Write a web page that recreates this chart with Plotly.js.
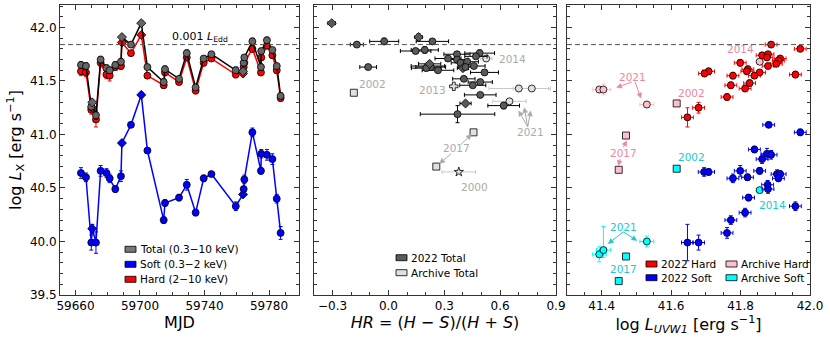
<!DOCTYPE html>
<html>
<head>
<meta charset="utf-8">
<script src="https://cdn.plot.ly/plotly-3.0.1.min.js"></script>
<style>body{margin:0;background:#fff;} #plotArea{width:830px;height:339px;}</style>
</head>
<body>
<div id="plotArea"></div>
<script>
// Left panel - light curves
var mjd = [59663.4, 59666.5, 59669.8, 59670.4, 59672.7, 59675.6, 59679.2, 59681.2, 59684.7, 59688.2, 59688.8,
    59694.4, 59700.8, 59704.6, 59714.7, 59715.5, 59724.2, 59729.0, 59734.5, 59739.5, 59744.3, 59759.4,
    59763.9, 59764.3, 59764.7, 59769.7, 59775.0, 59775.2, 59778.7, 59782.1, 59784.8, 59787.2];
var total = [41.65, 41.64, 41.26, 41.30, 41.18, 41.70, 41.62, 41.60, 41.65, 41.68, 41.91, 41.84, 42.04, 41.63, 41.49, 41.61,
    41.52, 41.76, 41.44, 41.71, 41.75, 41.60, 41.59, 41.67, 41.72, 41.87, 41.63, 41.78, 41.88, 41.79, 41.64, 41.36];
var totalErr = [0.03, 0.03, 0.03, 0.02, 0.04, 0.03, 0.03, 0.03, 0.03, 0.03, 0.02, 0.02, 0.02, 0.02, 0.03, 0.03,
    0.02, 0.03, 0.02, 0.02, 0.02, 0.03, 0.02, 0.03, 0.02, 0.03, 0.03, 0.02, 0.03, 0.02, 0.02, 0.03];
var hard = [41.59, 41.58, 41.23, 41.25, 41.14, 41.67, 41.56, 41.55, 41.63, 41.64, 41.86, 41.76, 41.93, 41.55, 41.46, 41.58,
    41.49, 41.72, 41.41, 41.67, 41.71, 41.56, 41.57, 41.63, 41.67, 41.80, 41.58, 41.72, 41.83, 41.74, 41.60, 41.34];
var hardErr = [0.04, 0.04, 0.04, 0.03, 0.07, 0.04, 0.04, 0.05, 0.03, 0.03, 0.02, 0.02, 0.02, 0.02, 0.03, 0.03,
    0.02, 0.03, 0.03, 0.03, 0.02, 0.03, 0.03, 0.03, 0.03, 0.03, 0.03, 0.03, 0.03, 0.03, 0.03, 0.03];
var soft = [40.64, 40.60, 39.99, 40.12, 39.99, 40.66, 40.64, 40.59, 40.49, 40.61, 40.92, 41.09, 41.37, 40.85, 40.20, 40.36,
    40.41, 40.53, 40.27, 40.59, 40.63, 40.33, 40.44, 40.49, 40.58, 41.02, 40.66, 40.82, 40.81, 40.77, 40.40, 40.08];
var softErr = [0.05, 0.04, 0.07, 0.04, 0.10, 0.05, 0.04, 0.04, 0.03, 0.05, 0.02, 0.01, 0.02, 0.02, 0.03, 0.03,
    0.03, 0.05, 0.03, 0.03, 0.02, 0.04, 0.02, 0.02, 0.04, 0.04, 0.03, 0.04, 0.05, 0.05, 0.04, 0.06];
var lcSymbol = mjd.map((m, i) => [3, 10, 12, 22].indexOf(i) >= 0 ? "diamond" : "circle");

// Middle panel - hardness ratio
var hr2022 = [-0.305, -0.17, -0.023, 0.162, 0.236, -0.109, 0.146, 0.195, 0.368, 0.49, 0.47, 0.32, 0.368, 0.387, 0.423, 0.459,
    0.212, 0.227, 0.40, 0.414, 0.266, 0.516, 0.405, 0.493, 0.453, 0.493, 0.414, 0.619, 0.371, 0.203, 0.221];
var hrErr2022 = [0.02, 0.035, 0.078, 0.02, 0.087, 0.045, 0.082, 0.073, 0.07, 0.08, 0.06, 0.07, 0.06, 0.05, 0.06, 0.06,
    0.09, 0.08, 0.03, 0.04, 0.085, 0.075, 0.06, 0.065, 0.07, 0.085, 0.03, 0.085, 0.2, 0.08, 0.06];
var lxHR2022 = [42.04, 41.84, 41.87, 41.91, 41.87, 41.63, 41.78, 41.79, 41.75, 41.76, 41.73, 41.71, 41.70, 41.67, 41.68, 41.64,
    41.64, 41.63, 41.62, 41.63, 41.60, 41.58, 41.52, 41.49, 41.46, 41.37, 41.29, 41.27, 41.19, 41.62, 41.66];
var lxHRErr2022 = [0.01, 0.01, 0.03, 0.03, 0.02, 0.01, 0.02, 0.03, 0.02, 0.03, 0.02, 0.02, 0.02, 0.02, 0.02, 0.02,
    0.02, 0.02, 0.02, 0.02, 0.02, 0.02, 0.02, 0.02, 0.02, 0.02, 0.02, 0.03, 0.08, 0.02, 0.02];
var hrSymbol = hr2022.map((h, i) => [0, 3, 18, 26, 30].indexOf(i) >= 0 ? "diamond" : "circle");

var hrArchive = [-0.186, 0.351, 0.525, 0.70, 0.77, 0.65, 0.457, 0.257, 0.378];
var hrErrArchive = [0, 0.02, 0.03, 0.16, 0.1, 0.09, 0, 0, 0.09];
var lxHRArchive = [41.39, 41.45, 41.71, 41.43, 41.43, 41.31, 41.02, 40.70, 40.65];
var lxHRErrArchive = [0, 0.02, 0.02, 0.03, 0.02, 0.02, 0, 0, 0.02];
var archiveSymbol = ["square", "cross", "circle", "circle", "circle", "circle", "square", "square", "star"];

// Right panel - UVW1
var uvHard = [41.888, 41.972, 41.862, 41.879, 41.876, 41.914, 41.909, 41.903, 41.799, 41.879, 41.821, 41.818,
    41.855, 41.84, 41.708, 41.696, 41.778, 41.958, 41.826, 41.772, 41.813, 41.761, 41.679, 41.647];
var lxHardUV = [41.84, 41.80, 41.74, 41.75, 41.72, 41.71, 41.69, 41.66, 41.67, 41.64, 41.61, 41.59,
    41.58, 41.55, 41.59, 41.57, 41.55, 41.56, 41.48, 41.46, 41.43, 41.35, 41.25, 41.16];
var lxHardUVErr = [0.02, 0.02, 0.02, 0.02, 0.02, 0.02, 0.02, 0.02, 0.03, 0.02, 0.03, 0.03,
    0.02, 0.02, 0.03, 0.03, 0.03, 0.03, 0.03, 0.03, 0.03, 0.03, 0.05, 0.09];
var uvSoft = [41.881, 41.972, 41.84, 41.876, 41.888, 41.862, 41.695, 41.708, 41.799, 41.778, 41.82, 41.855,
    41.905, 41.914, 41.909, 41.878, 41.879, 41.823, 41.958, 41.813, 41.772, 41.761, 41.647, 41.679];
var lxSoftUV = [41.09, 41.02, 40.86, 40.82, 40.81, 40.77, 40.65, 40.65, 40.66, 40.59, 40.60, 40.66,
    40.63, 40.63, 40.59, 40.53, 40.49, 40.41, 40.33, 40.27, 40.20, 40.08, 39.99, 39.99];
var lxSoftUVErr = [0.02, 0.03, 0.03, 0.05, 0.04, 0.04, 0.04, 0.03, 0.05, 0.04, 0.03, 0.03,
    0.04, 0.03, 0.03, 0.04, 0.04, 0.03, 0.04, 0.04, 0.04, 0.05, 0.17, 0.07];
var uvErr = 0.017;

var uvArchive = [41.393, 41.405, 41.53, 41.855, 41.616, 41.47, 41.449];
var uvErrArchive = [0.02, 0.02, 0.02, 0.01, 0, 0, 0];
var lxHardArchive = [41.42, 41.42, 41.28, 41.68, 41.29, 40.99, 40.67];
var lxHardArchiveErr = [0.03, 0.05, 0.03, 0.02, 0, 0, 0];
var lxSoftArchive = [39.88, 39.92, 40.00, 40.48, 40.68, 39.86, 39.63];
var lxSoftArchiveErrUp = [0.07, 0.22, 0.05, 0.02, 0, 0, 0];
var lxSoftArchiveErrDown = [0.07, 0.07, 0.05, 0.02, 0, 0, 0];
var uvArchiveSymbol = ["circle", "circle", "circle", "circle", "square", "square", "square"];

var font = "DejaVu Sans";

function errBar(arr, color) {
    return {type: "data", array: arr, visible: true, color: color, thickness: 1, width: 2};
}

// light curve traces
var data = [
    {x: mjd, y: soft, xaxis: "x", yaxis: "y", type: "scatter", mode: "lines+markers",
        line: {color: "#0000ff", width: 1.5},
        marker: {color: "#0000ff", size: 7, symbol: lcSymbol, line: {color: "#000", width: 0.8}},
        error_y: errBar(softErr, "#0000ff")},
    {x: mjd, y: hard, xaxis: "x", yaxis: "y", type: "scatter", mode: "lines+markers",
        line: {color: "#ff0000", width: 1.5},
        marker: {color: "#ff0000", size: 7, symbol: lcSymbol, line: {color: "#000", width: 0.8}},
        error_y: errBar(hardErr, "#ff0000")},
    {x: mjd, y: total, xaxis: "x", yaxis: "y", type: "scatter", mode: "lines+markers",
        line: {color: "#000", width: 1.5},
        marker: {color: "#666", size: 7, symbol: lcSymbol, line: {color: "#000", width: 0.8}},
        error_y: errBar(totalErr, "#000")},

    // hardness ratio
    {x: hrArchive, y: lxHRArchive, xaxis: "x2", yaxis: "y2", type: "scatter", mode: "markers",
        marker: {color: "#e0e0e0", size: 7, symbol: archiveSymbol, line: {color: "#000", width: 0.8}},
        error_x: errBar(hrErrArchive, "#c8c8c8"), error_y: errBar(lxHRErrArchive, "#c8c8c8")},
    {x: hr2022, y: lxHR2022, xaxis: "x2", yaxis: "y2", type: "scatter", mode: "markers",
        marker: {color: "#5a5a5a", size: 7, symbol: hrSymbol, line: {color: "#000", width: 0.8}},
        error_x: errBar(hrErr2022, "#000"), error_y: errBar(lxHRErr2022, "#000")},

    // UVW1
    {x: uvArchive, y: lxHardArchive, xaxis: "x3", yaxis: "y3", type: "scatter", mode: "markers",
        marker: {color: "#ffc0cb", size: 7, symbol: uvArchiveSymbol, line: {color: "#000", width: 0.8}},
        error_x: errBar(uvErrArchive, "#ffc0cb"), error_y: errBar(lxHardArchiveErr, "#ffc0cb")},
    {x: uvArchive, y: lxSoftArchive, xaxis: "x3", yaxis: "y3", type: "scatter", mode: "markers",
        marker: {color: "#00ffff", size: 7, symbol: uvArchiveSymbol, line: {color: "#000", width: 0.8}},
        error_x: errBar(uvErrArchive, "#00ffff"),
        error_y: {type: "data", symmetric: false, array: lxSoftArchiveErrUp, arrayminus: lxSoftArchiveErrDown,
            color: "#00ffff", thickness: 1, width: 2}},
    {x: uvHard, y: lxHardUV, xaxis: "x3", yaxis: "y3", type: "scatter", mode: "markers",
        marker: {color: "#ff0000", size: 7, line: {color: "#000", width: 0.8}},
        error_x: {type: "constant", value: uvErr, color: "#ff0000", thickness: 1, width: 2},
        error_y: errBar(lxHardUVErr, "#ff0000")},
    {x: uvSoft, y: lxSoftUV, xaxis: "x3", yaxis: "y3", type: "scatter", mode: "markers",
        marker: {color: "#0000ff", size: 7, line: {color: "#000", width: 0.8}},
        error_x: {type: "constant", value: uvErr, color: "#0000ff", thickness: 1, width: 2},
        error_y: errBar(lxSoftUVErr, "#0000ff")}
];

function axis(extra) {
    return Object.assign({
        showline: true, mirror: "ticks", linecolor: "#333", linewidth: 1,
        ticks: "inside", ticklen: 5, tickwidth: 1, tickcolor: "#333",
        zeroline: false, showgrid: false,
        tickfont: {family: font, size: 12, color: "#000"}
    }, extra);
}
function minor(step) {
    return {dtick: step, ticks: "inside", ticklen: 3, tickcolor: "#333", showgrid: false};
}

var titleFont = {family: font, size: 16, color: "#000"};

// legend patches drawn by hand (pixel positions -> paper)
var W = 830, plotTop = 5, plotBottom = 295;
function px(x) { return x / W; }
function py(y) { return (plotBottom - y) / (plotBottom - plotTop); }
var shapes = [];
var annotations = [];
function patch(x, y, label, color) {
    shapes.push({type: "rect", xref: "paper", yref: "paper", x0: px(x), x1: px(x + 11), y0: py(y + 3), y1: py(y - 3),
        fillcolor: color, line: {color: "#000", width: 0.8}});
    annotations.push({xref: "paper", yref: "paper", x: px(x + 13), y: py(y), text: label, showarrow: false,
        xanchor: "left", yanchor: "middle", font: {family: font, size: 10.5, color: "#000"}});
}
patch(125, 249.3, "Total (0.3\u221210 keV)", "#777");
patch(125, 264.3, "Soft (0.3\u22122 keV)", "#0000ff");
patch(125, 279.3, "Hard (2\u221210 keV)", "#ff0000");
patch(396, 257.7, "2022 Total", "#5a5a5a");
patch(396, 272.7, "Archive Total", "#e0e0e0");
patch(646, 264, "2022 Hard", "#ff0000");
patch(646, 277.7, "2022 Soft", "#0000ff");
patch(726, 264, "Archive Hard", "#ffc0cb");
patch(726, 277.7, "Archive Soft", "#00ffff");

// Eddington line
["x", "x2", "x3"].forEach(function(ax, i) {
    shapes.push({type: "line", xref: ax + " domain", yref: ["y", "y2", "y3"][i], x0: 0, x1: 1, y0: 41.84, y1: 41.84,
        line: {color: "#555", width: 1, dash: "5px,3px"}});
});
annotations.push({xref: "x", yref: "y", x: 59737, y: 41.915, text: "0.001 <i>L</i><sub>Edd</sub>", showarrow: false,
    font: {family: font, size: 11, color: "#000"}});

// year labels
function yearLabel(ax, x, y, text, color) {
    annotations.push({xref: ax, yref: ax.replace("x", "y"), x: x, y: y, text: text, showarrow: false,
        font: {family: font, size: 10.5, color: color}});
}
// arrows as shapes: shaft + small head, pixel scale of each axis
var pxPerX = {x2: 242 / 1.3, x3: 243 / 0.7};
var pxPerY = 290 / 2.71;
function arrow(ax, x0, y0, x1, y1, color) {
    var ay = ax.replace("x", "y");
    var sx = pxPerX[ax];
    var dx = (x1 - x0) * sx, dy = -(y1 - y0) * pxPerY;
    var len = Math.sqrt(dx * dx + dy * dy);
    var ux = dx / len, uy = dy / len;
    var bx = -ux * 5, by = -uy * 5;
    var lx = bx - uy * 2.5, ly = by + ux * 2.5;
    var rx = bx + uy * 2.5, ry = by - ux * 2.5;
    function X(p) { return x1 + p / sx; }
    function Y(p) { return y1 - p / pxPerY; }
    shapes.push({type: "line", xref: ax, yref: ay, x0: x0, y0: y0, x1: X(bx), y1: Y(by), line: {color: color, width: 1}});
    shapes.push({type: "path", xref: ax, yref: ay, fillcolor: color, line: {color: color, width: 0.5},
        path: "M" + x1 + "," + y1 + " L" + X(lx) + "," + Y(ly) + " L" + X(rx) + "," + Y(ry) + " Z"});
}
var grey = "#aaaaaa", pink = "#ee85a6", cyan = "#1cc8d0";
yearLabel("x2", -0.084, 41.47, "2002", grey);
yearLabel("x2", 0.236, 41.42, "2013", grey);
yearLabel("x2", 0.664, 41.71, "2014", grey);
yearLabel("x2", 0.762, 41.02, "2021", grey);
yearLabel("x2", 0.364, 40.87, "2017", grey);
yearLabel("x2", 0.462, 40.51, "2000", grey);
arrow("x2", 0.748, 41.07, 0.70, 41.22, grey);
arrow("x2", 0.748, 41.07, 0.73, 41.25, grey);
arrow("x2", 0.748, 41.07, 0.764, 41.22, grey);
arrow("x2", 0.391, 40.91, 0.445, 41.00, grey);
arrow("x2", 0.337, 40.82, 0.275, 40.73, grey);

yearLabel("x3", 41.799, 41.80, "2014", pink);
yearLabel("x3", 41.49, 41.54, "2021", pink);
yearLabel("x3", 41.66, 41.39, "2002", pink);
yearLabel("x3", 41.462, 40.83, "2017", pink);
arrow("x3", 41.487, 41.49, 41.443, 41.44, pink);
arrow("x3", 41.496, 41.49, 41.513, 41.34, pink);
arrow("x3", 41.462, 40.88, 41.472, 40.94, pink);
arrow("x3", 41.453, 40.77, 41.448, 40.71, pink);
yearLabel("x3", 41.66, 40.79, "2002", cyan);
yearLabel("x3", 41.891, 40.34, "2014", cyan);
yearLabel("x3", 41.462, 40.14, "2021", cyan);
yearLabel("x3", 41.462, 39.74, "2017", cyan);
arrow("x3", 41.462, 40.09, 41.419, 39.98, cyan);
arrow("x3", 41.462, 40.09, 41.501, 40.01, cyan);

var layout = {
    width: 830, height: 339,
    margin: {l: 0, r: 0, t: plotTop, b: 339 - plotBottom},
    paper_bgcolor: "#fff", plot_bgcolor: "#fff",
    showlegend: false,
    xaxis: axis({domain: [60 / W, 299 / W], range: [59650.4, 59798.6], tick0: 59660, dtick: 40, tickformat: "d",
        minor: minor(10), title: {text: "MJD", font: titleFont, standoff: 3}, anchor: "y"}),
    yaxis: axis({domain: [0, 1], range: [39.5, 42.21], tick0: 39.5, dtick: 0.5, tickformat: ".1f",
        minor: minor(0.1),
        title: {text: "log <i>L</i><sub>X</sub> [erg s<sup>\u22121</sup>]", font: titleFont, standoff: 4}, anchor: "x"}),
    xaxis2: axis({domain: [314 / W, 556 / W], range: [-0.4, 0.9], tick0: -0.3, dtick: 0.3, tickformat: ".1f",
        minor: minor(0.1),
        title: {text: "<i>HR</i> = (<i>H</i> \u2212 <i>S</i>)/(<i>H</i> + <i>S</i>)", font: titleFont, standoff: 3},
        anchor: "y2"}),
    yaxis2: axis({domain: [0, 1], matches: "y", showticklabels: false, anchor: "x2", dtick: 0.5, tick0: 39.5,
        minor: minor(0.1)}),
    xaxis3: axis({domain: [567 / W, 810 / W], range: [41.3, 42.0], tick0: 41.4, dtick: 0.2, tickformat: ".1f",
        minor: minor(0.05),
        title: {text: "log <i>L</i><sub><i>UVW1</i></sub> [erg s<sup>\u22121</sup>]", font: titleFont, standoff: 3},
        anchor: "y3"}),
    yaxis3: axis({domain: [0, 1], matches: "y", showticklabels: false, anchor: "x3", dtick: 0.5, tick0: 39.5,
        minor: minor(0.1)}),
    shapes: shapes,
    annotations: annotations
};

Plotly.newPlot("plotArea", data, layout, {staticPlot: true});
</script>
</body>
</html>
